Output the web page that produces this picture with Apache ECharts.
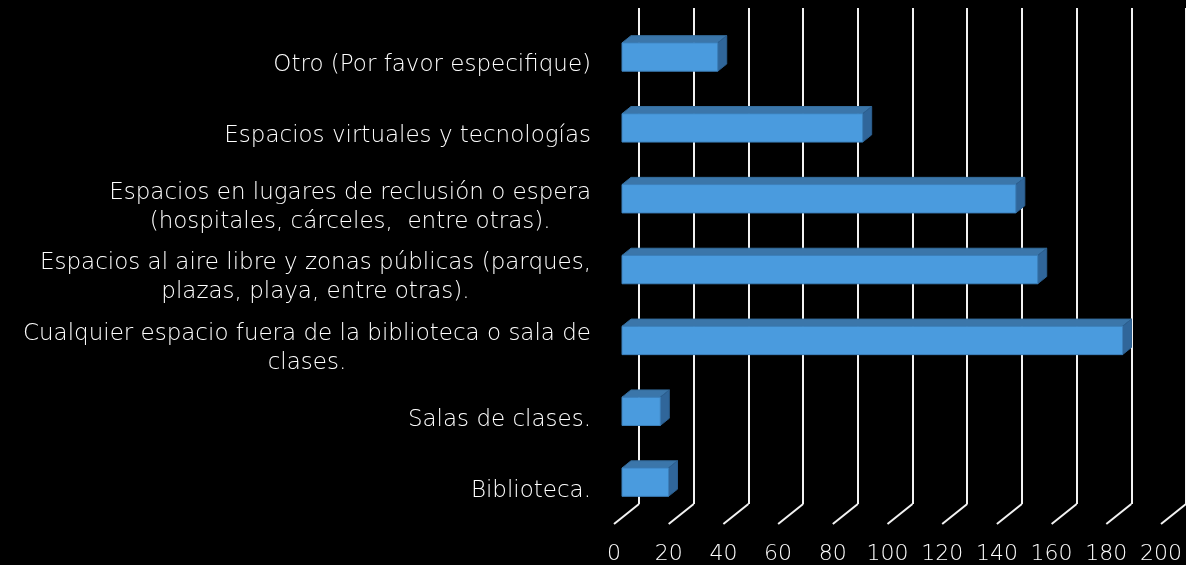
<!DOCTYPE html>
<html>
<head>
<meta charset="utf-8">
<style>
  html, body { margin: 0; background: #000; }
  #chart { width: 1186px; height: 565px; }
</style>
<script src="https://cdn.jsdelivr.net/npm/echarts@6/dist/echarts.min.js"></script>
</head>
<body>
<div id="chart"></div>
<script>
// bottom to top, as the category axis draws them
const categories = [
  'Biblioteca.',
  'Salas de clases.',
  'Cualquier espacio fuera de la biblioteca o sala de\nclases.',
  'Espacios al aire libre y zonas públicas (parques,\nplazas, playa, entre otras).',
  'Espacios en lugares de reclusión o espera\n(hospitales, cárceles,  entre otras).',
  'Espacios virtuales y tecnologías',
  'Otro (Por favor especifique)'
]
const values = [17, 14, 183, 152, 144, 88, 35]
const ticks = [0, 20, 40, 60, 80, 100, 120, 140, 160, 180, 200]

// fake 3d: floor depth from back wall to front edge
const depthX = -25
const depthY = 20
const barFront = 0.68
const barBack = 0.32
const fontFamily = '"DejaVu Sans", sans-serif'
const textColor = '#ffffff'

const chart = echarts.init(document.getElementById('chart'))

function renderBar(params, api) {
  const val = api.value(0)
  const cat = api.value(1)
  const start = api.coord([0, cat])
  const end = api.coord([val, cat])
  const h = api.size([0, 1])[1] * 0.4
  const fx = depthX * barFront
  const fy = depthY * barFront
  const ox = depthX * (barBack - barFront)
  const oy = depthY * (barBack - barFront)
  const x0 = start[0] + fx
  const x1 = end[0] + fx
  const top = start[1] + fy - h / 2
  const bottom = top + h
  return {
    type: 'group',
    children: [
      {
        type: 'polygon',
        shape: { points: [[x0, top], [x1, top], [x1 + ox, top + oy], [x0 + ox, top + oy]] },
        style: { fill: '#3b76aa', stroke: '#346c9c', lineWidth: 1 }
      },
      {
        type: 'polygon',
        shape: { points: [[x1, top], [x1, bottom], [x1 + ox, bottom + oy], [x1 + ox, top + oy]] },
        style: { fill: '#30669a', stroke: '#2c5f8f', lineWidth: 1 }
      },
      {
        type: 'rect',
        shape: { x: x0, y: top, width: x1 - x0, height: h },
        style: { fill: '#4a9bde', stroke: '#3d80bb', lineWidth: 1 }
      }
    ]
  }
}

function renderFloor(params, api) {
  const x = api.coord([api.value(0), 0])[0]
  const y = params.coordSys.y + params.coordSys.height
  return {
    type: 'line',
    shape: { x1: x, y1: y, x2: x + depthX, y2: y + depthY },
    style: { stroke: '#f2f2f2', lineWidth: 2 }
  }
}

chart.setOption({
  backgroundColor: '#000',
  animation: false,
  grid: { left: 639, top: 8, right: -3, height: 497 },
  xAxis: {
    type: 'value',
    min: 0,
    max: 200,
    interval: 20,
    axisLine: { show: false },
    axisTick: { show: false },
    splitLine: { show: true, lineStyle: { color: '#f2f2f2', width: 2 } },
    axisLabel: {
      color: textColor,
      fontFamily: fontFamily,
      fontWeight: 200,
      fontSize: 22,
      margin: 39,
      padding: [0, -depthX * 2, 0, 0],
      showMaxLabel: true
    }
  },
  yAxis: {
    type: 'category',
    data: categories,
    axisLine: { show: false },
    axisTick: { show: false },
    splitLine: { show: false },
    axisLabel: {
      margin: 48,
      padding: [44, 0, 0, 0],
      formatter: function (v) {
        return v.split('\n').map(function (s) { return '{c|' + s + '}' }).join('\n')
      },
      rich: {
        c: { align: 'center', color: textColor, fontFamily: fontFamily, fontWeight: 200, fontSize: 23, lineHeight: 29 }
      }
    }
  },
  series: [
    {
      type: 'custom',
      name: 'floor',
      renderItem: renderFloor,
      data: ticks.map(function (t) { return [t] }),
      silent: true
    },
    {
      type: 'custom',
      renderItem: renderBar,
      encode: { x: 0, y: 1 },
      data: values.map(function (v, i) { return [v, i] })
    }
  ]
})
</script>
</body>
</html>
